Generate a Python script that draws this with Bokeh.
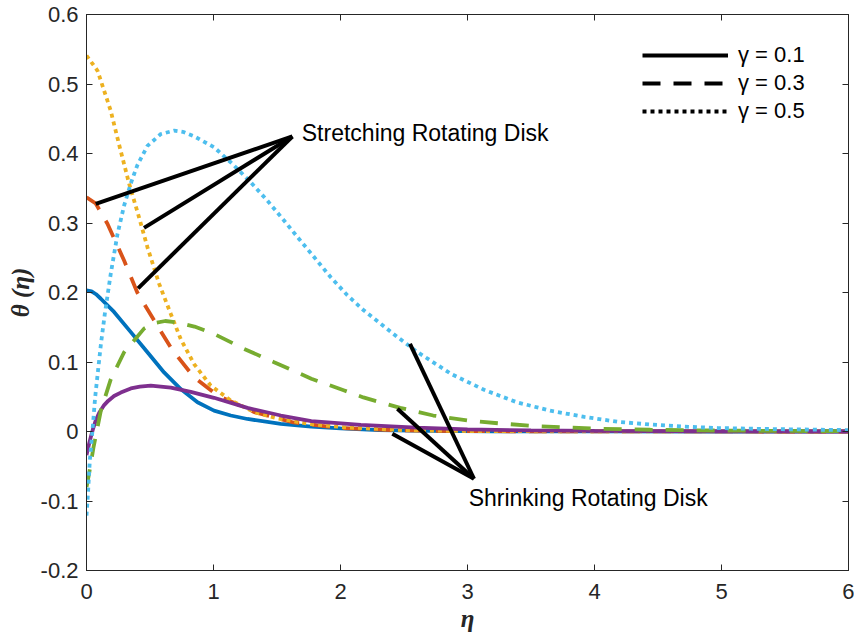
import math
from bokeh.plotting import figure
from bokeh.models import (LinearAxis, FixedTicker, CustomJSTickFormatter, Legend, LegendItem,
                          Label, Range1d)
from bokeh.embed import file_html
from bokeh.resources import INLINE

# ---------------- data ----------------
# gamma = 0.1 (solid)
eta_s1 = [0, 0.04, 0.075, 0.113, 0.217, 0.349, 0.48, 0.611, 0.742, 0.874, 1.004, 1.136, 1.267, 1.53, 1.77, 2.0, 2.3, 2.7, 3.2, 4.0, 5.0, 6.0]
theta_s1 = [0.203, 0.2017, 0.1975, 0.191, 0.172, 0.143, 0.114, 0.085, 0.061, 0.042, 0.030, 0.023, 0.018, 0.011, 0.007, 0.0045, 0.002, 0.0008, 0.0003, 0.0001, 0, 0]
eta_k1 = [0, 0.01, 0.02, 0.034, 0.05, 0.073, 0.1, 0.139, 0.17, 0.217, 0.27, 0.349, 0.42, 0.506, 0.664, 0.821, 1.004, 1.267, 1.53, 1.77, 2.16, 2.6, 3.0, 3.5, 4.0, 5.0, 6.0]
theta_k1 = [-0.034, -0.026, -0.018, -0.008, 0.003, 0.016, 0.027, 0.038, 0.044, 0.051, 0.056, 0.062, 0.0645, 0.066, 0.063, 0.057, 0.0485, 0.034, 0.023, 0.015, 0.0095, 0.0055, 0.003, 0.0015, 0.0008, 0.0002, 0]

# gamma = 0.3 (dashed)
eta_s3 = [0, 0.073, 0.165, 0.296, 0.4, 0.532, 0.677, 0.847, 1.031, 1.32, 1.63, 2.0, 2.5, 3.0, 4.0, 6.0]
theta_s3 = [0.337, 0.328, 0.299, 0.246, 0.2, 0.16, 0.117, 0.078, 0.052, 0.028, 0.013, 0.005, 0.0015, 0.0005, 0.0001, 0]
eta_k3 = [0, 0.02, 0.055, 0.113, 0.191, 0.296, 0.453, 0.532, 0.62, 0.716, 0.85, 1.004, 1.24, 1.477, 1.77, 2.03, 2.18, 2.47, 2.73, 3.0, 3.26, 3.52, 3.79, 4.05, 4.44, 4.97, 5.5, 6.0]
theta_k3 = [-0.08, -0.061, -0.023, 0.03, 0.075, 0.114, 0.148, 0.156, 0.159, 0.157, 0.151, 0.1405, 0.119, 0.0997, 0.076, 0.059, 0.049, 0.034, 0.023, 0.016, 0.0115, 0.008, 0.0058, 0.004, 0.0025, 0.0014, 0.0008, 0.0004]

# gamma = 0.5 (dotted)
eta_s5 = [0, 0.087, 0.19, 0.255, 0.335, 0.414, 0.48, 0.572, 0.664, 0.742, 0.847, 0.978, 1.136, 1.32, 1.5, 1.75, 2.03, 2.5, 3.0, 4.0, 6.0]
theta_s5 = [0.541, 0.519, 0.462, 0.414, 0.357, 0.308, 0.265, 0.2125, 0.169, 0.133, 0.097, 0.066, 0.0446, 0.028, 0.019, 0.011, 0.006, 0.002, 0.0007, 0.0001, 0]
eta_k5 = [0, 0.013, 0.026, 0.047, 0.068, 0.091, 0.113, 0.144, 0.191, 0.244, 0.296, 0.349, 0.4, 0.48, 0.585, 0.69, 0.768, 0.845, 1.004, 1.149, 1.293, 1.425, 1.555, 1.674, 1.792, 1.923, 2.054, 2.185, 2.316, 2.448, 2.6, 2.87, 3.13, 3.39, 3.65, 3.92, 4.18, 4.44, 4.7, 4.97, 5.23, 5.6, 6.0]
theta_k5 = [-0.121, -0.085, -0.042, 0.0015, 0.049, 0.088, 0.125, 0.169, 0.227, 0.284, 0.325, 0.357, 0.383, 0.411, 0.428, 0.433, 0.4307, 0.425, 0.409, 0.385, 0.3587, 0.332, 0.3036, 0.277, 0.251, 0.222, 0.196, 0.174, 0.155, 0.136, 0.115, 0.083, 0.06, 0.042, 0.030, 0.021, 0.014, 0.010, 0.007, 0.005, 0.004, 0.003, 0.002]

# annotation pointers
stretch_apex = (1.621, 0.4245)
stretch_end_x = [0.073, 0.453, 0.406]
stretch_end_y = [0.3276, 0.293, 0.206]
shrink_apex = (3.051, -0.068)
shrink_end_x = [2.547, 2.448, 2.408]
shrink_end_y = [0.126, 0.0327, -0.0033]
stretch_text = (1.695, 0.429, "Stretching Rotating Disk")
shrink_text = (3.009, -0.0964, "Shrinking Rotating Disk")

x_ticks = [0, 1, 2, 3, 4, 5, 6]
y_ticks = [-0.2, -0.1, 0, 0.1, 0.2, 0.3, 0.4, 0.5, 0.6]
legend_labels = ["γ = 0.1", "γ = 0.3", "γ = 0.5"]

# ---------------- styles ----------------
BLUE, RED, YELLOW = "#0072BD", "#D95319", "#EDB120"
PURPLE, GREEN, LBLUE = "#7E2F8E", "#77AC30", "#4DBEEE"
DASH = "18 13"
DOT = "4 4"
LW = 3.8
FONT = "Liberation Sans"
AX = "#262626"

p = figure(frame_width=762, frame_height=556, output_backend="svg", toolbar_location=None,
           x_range=Range1d(0, 6), y_range=Range1d(-0.2, 0.6),
           min_border_left=86, min_border_top=14, min_border_right=6, min_border_bottom=70)
p.background_fill_color = "white"
p.border_fill_color = "white"
p.outline_line_color = AX
p.outline_line_width = 1
p.grid.visible = False

def style_axis(ax, ticks, show_labels=True):
    ax.ticker = FixedTicker(ticks=ticks)
    ax.major_tick_in = 6
    ax.major_tick_out = 0
    ax.minor_tick_line_color = None
    ax.axis_line_color = AX
    ax.major_tick_line_color = AX
    ax.major_label_text_color = AX
    ax.major_label_text_font = FONT
    if show_labels:
        ax.major_label_text_font_size = "22px"
    else:
        ax.formatter = CustomJSTickFormatter(code="return '';")
        ax.major_label_text_font_size = "1px"
        ax.major_label_standoff = 0

style_axis(p.xaxis[0], x_ticks)
style_axis(p.yaxis[0], y_ticks)
p.yaxis[0].formatter = CustomJSTickFormatter(code="return Math.abs(tick) < 1e-9 ? '0' : tick.toFixed(1);")
p.xaxis[0].major_label_standoff = 13
p.yaxis[0].major_label_standoff = 8
for ax, lab, standoff in ((p.xaxis[0], "η", 3), (p.yaxis[0], "θ (η)", 4)):
    ax.axis_label = lab
    ax.axis_label_text_font = "Liberation Serif"
    ax.axis_label_text_font_style = "bold italic"
    ax.axis_label_text_font_size = "25px"
    ax.axis_label_text_color = AX
    ax.axis_label_standoff = standoff

top = LinearAxis()
style_axis(top, x_ticks, show_labels=False)
right = LinearAxis()
style_axis(right, y_ticks, show_labels=False)
p.add_layout(top, "above")
p.add_layout(right, "right")

# curves
p.line(eta_s1, theta_s1, line_color=BLUE, line_width=LW)
p.line(eta_s3, theta_s3, line_color=RED, line_width=LW, line_dash=DASH)
p.line(eta_s5, theta_s5, line_color=YELLOW, line_width=LW, line_dash=DOT)
p.line(eta_k1, theta_k1, line_color=PURPLE, line_width=LW)
p.line(eta_k3, theta_k3, line_color=GREEN, line_width=LW, line_dash=DASH)
p.line(eta_k5, theta_k5, line_color=LBLUE, line_width=LW, line_dash=DOT)

# annotation arrows
p.segment(x0=stretch_end_x, y0=stretch_end_y,
          x1=[stretch_apex[0]] * 3, y1=[stretch_apex[1]] * 3, line_color="black", line_width=4)
p.segment(x0=shrink_end_x, y0=shrink_end_y,
          x1=[shrink_apex[0]] * 3, y1=[shrink_apex[1]] * 3, line_color="black", line_width=4)
for tx, ty, tt in (stretch_text, shrink_text):
    p.add_layout(Label(x=tx, y=ty, text=tt, text_font=FONT, text_font_size="23px",
                       text_color="black", text_baseline="middle", text_align="left"))

# legend (proxy renderers without visible data)
nan = float("nan")
r1 = p.line([nan, nan], [nan, nan], line_color="black", line_width=4)
r2 = p.line([nan, nan], [nan, nan], line_color="black", line_width=4, line_dash=DASH)
r3 = p.line([nan, nan], [nan, nan], line_color="black", line_width=4, line_dash=DOT)
legend = Legend(items=[LegendItem(label=legend_labels[0], renderers=[r1]),
                       LegendItem(label=legend_labels[1], renderers=[r2]),
                       LegendItem(label=legend_labels[2], renderers=[r3])],
                location=(556, 446), margin=0, padding=0, spacing=2,
                glyph_width=86, glyph_height=20, label_height=20, label_standoff=10,
                label_text_font=FONT, label_text_font_size="22px", label_text_color="black",
                border_line_alpha=0, background_fill_alpha=0)
p.add_layout(legend, "center")

open("out.html", "w").write(file_html(p, INLINE))
